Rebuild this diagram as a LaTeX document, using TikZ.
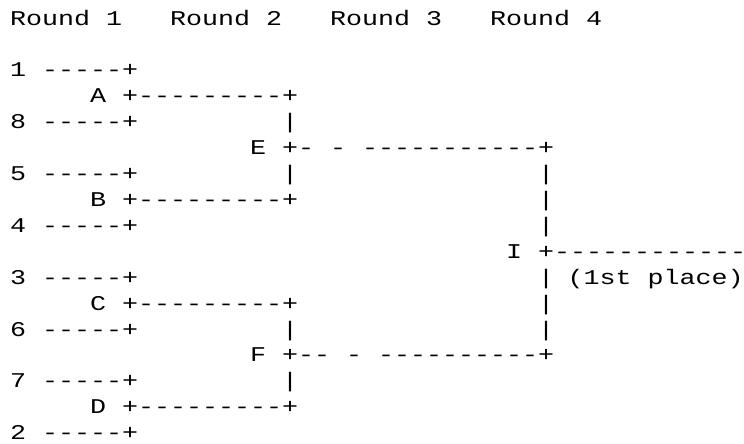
\documentclass[tikz,border=0pt]{standalone}
\usepackage{fontspec}
\setmonofont[FakeStretch=1.27]{Liberation Mono}
\usepackage{tikz}

\tikzset{txt/.style={anchor=base west, inner sep=0pt, font=\ttfamily\fontsize{21}{25}\selectfont}}

\begin{document}
\begin{tikzpicture}[x=16pt, y=-25.9pt]
                    \useasboundingbox (-0.625,-0.973) rectangle (45.875,16.17);
                    % round headings
                    \node [txt] (r1) at (0,0) {Round 1};
                    \node [txt] (r2) at (10,0) {Round 2};
                    \node [txt] (r3) at (20,0) {Round 3};
                    \node [txt] (r4) at (30,0) {Round 4};
                    % top half
                    \node [txt] (s1) at (0,2) {1 -----+};
                    \node [txt] (mA) at (5,3) {A +---------+};
                    \node [txt] (s8) at (0,4) {8 -----+};
                    \node [txt] (vA) at (17,4) {|};
                    \node [txt] (mE) at (15,5) {E +- - -----------+};
                    \node [txt] (s5) at (0,6) {5 -----+};
                    \node [txt] (vB) at (17,6) {|};
                    \node [txt] (vE1) at (33,6) {|};
                    \node [txt] (mB) at (5,7) {B +---------+};
                    \node [txt] (vE2) at (33,7) {|};
                    \node [txt] (s4) at (0,8) {4 -----+};
                    \node [txt] (vE3) at (33,8) {|};
                    % final
                    \node [txt] (mI) at (31,9) {I +------------};
                    \node [txt] (s3) at (0,10) {3 -----+};
                    \node [txt] (vI) at (33,10) {|};
                    \node [txt, xshift=-2.5pt] (win) at (35,10) {(1st place)};
                    % bottom half
                    \node [txt] (mC) at (5,11) {C +---------+};
                    \node [txt] (vF1) at (33,11) {|};
                    \node [txt] (s6) at (0,12) {6 -----+};
                    \node [txt] (vC) at (17,12) {|};
                    \node [txt] (vF2) at (33,12) {|};
                    \node [txt] (mF) at (15,13) {F +-- - ----------+};
                    \node [txt] (s7) at (0,14) {7 -----+};
                    \node [txt] (vD) at (17,14) {|};
                    \node [txt] (mD) at (5,15) {D +---------+};
                    \node [txt] (s2) at (0,16) {2 -----+};
\end{tikzpicture}
\end{document}
